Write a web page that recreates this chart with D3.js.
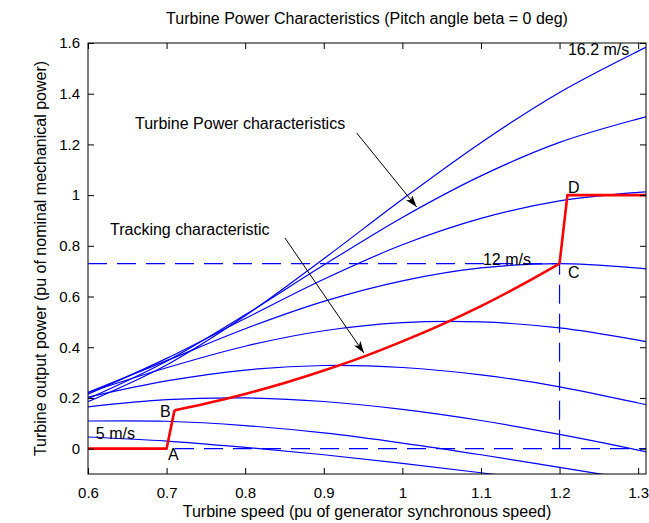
<!DOCTYPE html>
<html><head><meta charset="utf-8">
<script src="https://cdn.jsdelivr.net/npm/d3@7"></script>
<style>
html,body{margin:0;padding:0;background:#fff;}
svg{display:block;font-family:"Liberation Sans",Arial,Helvetica,sans-serif;}
</style></head><body>
<svg id="chart" width="649" height="523"></svg>
<script>
// ---- data ----
const speedX = [0.6, 0.7, 0.8, 0.9, 1.0, 1.1, 1.2, 1.3, 1.31];
const p162 = [0.185, 0.330, 0.524, 0.749, 0.984, 1.207, 1.405, 1.568, 1.583];
const p148 = [0.197, 0.345, 0.528, 0.724, 0.912, 1.076, 1.208, 1.301, 1.309];
const p134 = [0.215, 0.356, 0.513, 0.668, 0.804, 0.908, 0.977, 1.011, 1.013];
const p120 = [0.222, 0.347, 0.473, 0.581, 0.662, 0.713, 0.730, 0.712, 0.709];
const p106 = [0.221, 0.319, 0.404, 0.465, 0.497, 0.500, 0.476, 0.428, 0.422];
const p092 = [0.203, 0.267, 0.310, 0.328, 0.320, 0.291, 0.244, 0.180, 0.173];
const p078 = [0.165, 0.193, 0.200, 0.186, 0.155, 0.111, 0.056, -0.006, -0.013];
const p064 = [0.109, 0.108, 0.091, 0.062, 0.022, -0.024, -0.074, -0.124, -0.129];
const p050 = [0.046, 0.030, 0.005, -0.024, -0.058, -0.095, -0.135, -0.175, -0.18];
const powerSeries = [p162, p148, p134, p120, p106, p092, p078, p064, p050];

// tracking characteristic A-B-C-D
const trackLowX = [0.6, 0.7, 0.71];
const trackLowY = [0, 0, 0.151];
const trackMidX = [0.71, 0.75, 0.8, 0.85, 0.9, 0.95, 1.0, 1.05, 1.1, 1.15, 1.2];
const trackMidY = [0.151, 0.178, 0.216, 0.259, 0.308, 0.362, 0.423, 0.489, 0.562, 0.643, 0.730];
const trackHighX = [1.2, 1.21, 1.31];
const trackHighY = [0.730, 1.0, 1.0];

// dashed reference lines [x1, y1, x2, y2]
const refH073 = [0.6, 0.73, 1.2, 0.73];
const refH0 = [0.6, 0, 1.31, 0];
const refV12 = [1.2, 0, 1.2, 0.73];

const xTicks = [0.6, 0.7, 0.8, 0.9, 1.0, 1.1, 1.2, 1.3];
const xTickLabels = ["0.6", "0.7", "0.8", "0.9", "1", "1.1", "1.2", "1.3"];
const yTicks = [0, 0.2, 0.4, 0.6, 0.8, 1.0, 1.2, 1.4, 1.6];
const yTickLabels = ["0", "0.2", "0.4", "0.6", "0.8", "1", "1.2", "1.4", "1.6"];

const labelTexts = ["16.2 m/s", "12 m/s", "5 m/s", "A", "B", "C", "D",
                    "Turbine Power characteristics", "Tracking characteristic"];
const labelX = [1.2107, 1.1025, 0.610, 0.7018, 0.6916, 1.2107, 1.2107, 0.6598, 0.628];
const labelY = [1.554, 0.7256, 0.039, -0.043, 0.126, 0.674, 1.009, 1.262, 0.844];

const arrowFrom = [[0.9419, 1.245], [0.8506, 0.831]];
const arrowTo = [[1.0182, 0.953], [0.9511, 0.377]];

const titleText = "Turbine Power Characteristics (Pitch angle beta = 0 deg)";
const xLabelText = "Turbine speed (pu of generator synchronous speed)";
const yLabelText = "Turbine output power (pu of nominal mechanical power)";

// ---- drawing ----
const svg = d3.select("#chart");
const x = d3.scaleLinear().domain([0.6, 1.31]).range([88, 646]);
const y = d3.scaleLinear().domain([-0.1, 1.6]).range([474, 43]);
const [x0, x1] = x.range();
const [y0, y1] = y.range();

svg.append("defs").append("clipPath").attr("id", "plotclip")
  .append("rect").attr("x", x0).attr("y", y1).attr("width", x1 - x0).attr("height", y0 - y1);

const marker = svg.select("defs").append("marker")
  .attr("id", "arrowhead").attr("viewBox", "0 0 12 8")
  .attr("refX", 12).attr("refY", 4)
  .attr("markerWidth", 12).attr("markerHeight", 8)
  .attr("markerUnits", "userSpaceOnUse")
  .attr("orient", "auto");
marker.append("path").attr("d", "M0,0 L12,4 L0,8 L3,4 Z").attr("fill", "#000");

const plot = svg.append("g").attr("clip-path", "url(#plotclip)");

const line = d3.line()
  .x((d, i) => x(speedX[i]))
  .y(d => y(d))
  .curve(d3.curveCatmullRom.alpha(0.5));

plot.selectAll("path.pc").data(powerSeries).join("path")
  .attr("class", "pc")
  .attr("d", line)
  .attr("fill", "none").attr("stroke", "#0000ff").attr("stroke-width", 1.2);

// dashed lines
plot.selectAll("line.ref").data([refH073, refH0, refV12]).join("line")
  .attr("class", "ref")
  .attr("x1", d => x(d[0])).attr("y1", d => y(d[1]))
  .attr("x2", d => x(d[2])).attr("y2", d => y(d[3]))
  .attr("stroke", "#0000ff").attr("stroke-width", 1.2)
  .attr("stroke-dasharray", "19,10");

// tracking characteristic
const lin = d3.line().x(d => x(d[0])).y(d => y(d[1]));
const smooth = d3.line().x(d => x(d[0])).y(d => y(d[1])).curve(d3.curveCatmullRom.alpha(0.5));
const zip = (a, b) => a.map((v, i) => [v, b[i]]);
plot.append("path").attr("d", lin(zip(trackLowX, trackLowY)))
  .attr("fill", "none").attr("stroke", "#ff0000").attr("stroke-width", 2.6).attr("stroke-linejoin", "round");
plot.append("path").attr("d", smooth(zip(trackMidX, trackMidY)))
  .attr("fill", "none").attr("stroke", "#ff0000").attr("stroke-width", 2.6).attr("stroke-linejoin", "round");
plot.append("path").attr("d", lin(zip(trackHighX, trackHighY)))
  .attr("fill", "none").attr("stroke", "#ff0000").attr("stroke-width", 2.6).attr("stroke-linejoin", "round");

// axes
const fs = 15;
const gx = svg.append("g").attr("transform", `translate(0,${y0})`)
  .call(d3.axisBottom(x).tickValues(xTicks).tickFormat((d, i) => xTickLabels[i])
    .tickSizeInner(-6).tickSizeOuter(0).tickPadding(13));
const gxt = svg.append("g").attr("transform", `translate(0,${y1})`)
  .call(d3.axisTop(x).tickValues(xTicks).tickFormat("").tickSizeInner(-6).tickSizeOuter(0));
const gy = svg.append("g").attr("transform", `translate(${x0},0)`)
  .call(d3.axisLeft(y).tickValues(yTicks).tickFormat((d, i) => yTickLabels[i])
    .tickSizeInner(-6).tickSizeOuter(0).tickPadding(8));
const gyr = svg.append("g").attr("transform", `translate(${x1},0)`)
  .call(d3.axisRight(y).tickValues(yTicks).tickFormat("").tickSizeInner(-6).tickSizeOuter(0));
[gx, gxt, gy, gyr].forEach(g => {
  g.select(".domain").remove();
  g.selectAll(".tick line").attr("stroke", "#000");
  g.selectAll(".tick text").attr("fill", "#000").attr("font-size", fs)
    .attr("font-family", '"Liberation Sans",Arial,sans-serif');
});
svg.append("rect").attr("x", x0).attr("y", y1).attr("width", x1 - x0).attr("height", y0 - y1)
  .attr("fill", "none").attr("stroke", "#000").attr("stroke-width", 1);

// annotations
svg.selectAll("text.ann").data(labelTexts).join("text")
  .attr("class", "ann")
  .attr("x", (d, i) => x(labelX[i])).attr("y", (d, i) => y(labelY[i]))
  .attr("font-size", 16).attr("fill", "#000")
  .text(d => d);

svg.selectAll("line.arr").data(arrowFrom).join("line")
  .attr("class", "arr")
  .attr("x1", d => x(d[0])).attr("y1", d => y(d[1]))
  .attr("x2", (d, i) => x(arrowTo[i][0])).attr("y2", (d, i) => y(arrowTo[i][1]))
  .attr("stroke", "#000").attr("stroke-width", 1)
  .attr("marker-end", "url(#arrowhead)");

// title & axis labels
svg.append("text").attr("x", (x0 + x1) / 2).attr("y", 24)
  .attr("text-anchor", "middle").attr("font-size", 16).text(titleText);
svg.append("text").attr("x", (x0 + x1) / 2).attr("y", 517)
  .attr("text-anchor", "middle").attr("font-size", 16).text(xLabelText);
svg.append("text").attr("transform", `translate(46,${(y0 + y1) / 2}) rotate(-90)`)
  .attr("text-anchor", "middle").attr("font-size", 16).text(yLabelText);
</script>
</body></html>
